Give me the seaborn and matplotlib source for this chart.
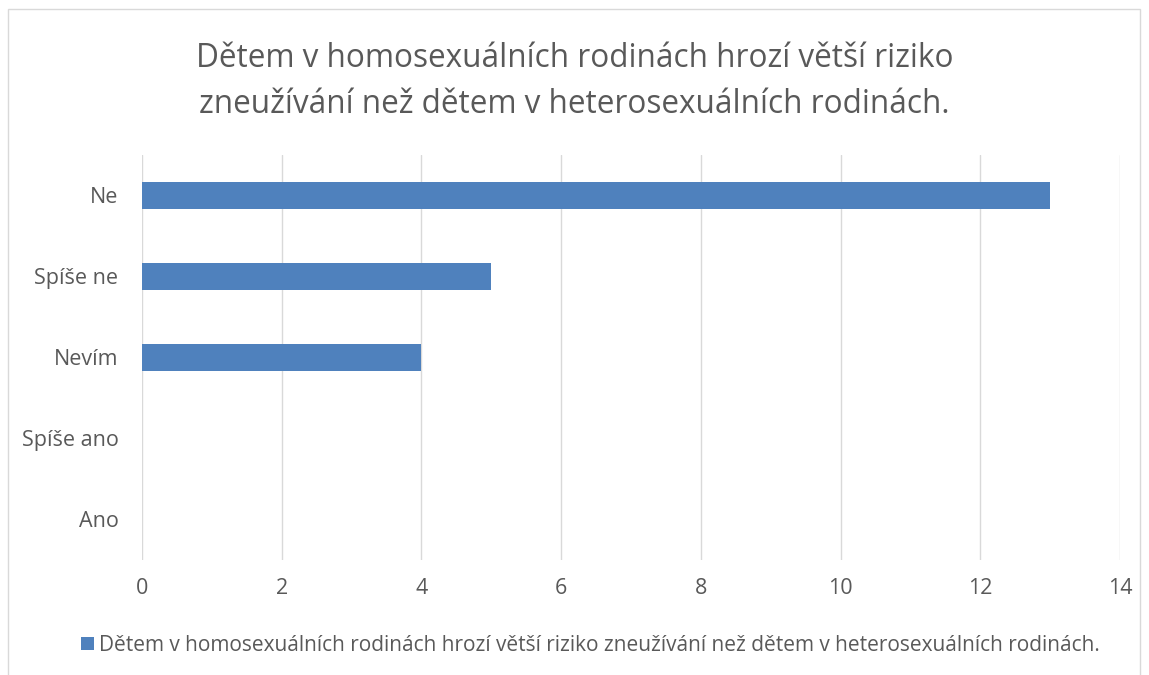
import matplotlib
matplotlib.use("Agg")
import matplotlib.pyplot as plt
import seaborn as sns
import pandas as pd
from matplotlib.patches import Rectangle

categories = ["Ne", "Spíše ne", "Nevím", "Spíše ano", "Ano"]
values = [13, 5, 4, 0, 0]
series_name = "Dětem v homosexuálních rodinách hrozí větší riziko zneužívání než dětem v heterosexuálních rodinách."
title = "Dětem v homosexuálních rodinách hrozí větší riziko\nzneužívání než dětem v heterosexuálních rodinách."
xticks = [0, 2, 4, 6, 8, 10, 12, 14]

sns.set_theme(style="white")
plt.rcParams['font.family'] = ['Open Sans', 'DejaVu Sans']

TEXT = "#595959"
BAR = "#4F81BD"
GRID = "#D9D9D9"

fig = plt.figure(figsize=(11.49, 6.75), dpi=100)
ax = fig.add_axes([0.1236, 0.1704, 0.8512, 0.6])

df = pd.DataFrame({"answer": categories, "count": values})
sns.barplot(data=df, x="count", y="answer", color=BAR, width=0.33,
            saturation=1, ax=ax, orient="h", linewidth=0)

ax.set_xlim(0, 14)
ax.set_ylim(4.5, -0.5)
ax.set_xticks(xticks)
ax.set_xticklabels([str(t) for t in xticks])
ax.set_xlabel("")
ax.set_ylabel("")
for s in ax.spines.values():
    s.set_visible(False)
ax.grid(axis="x", color=GRID, linewidth=1)
ax.grid(axis="y", visible=False)
ax.set_axisbelow(True)
ax.tick_params(axis="x", length=0, pad=13, labelsize=15.5, labelcolor=TEXT)
ax.tick_params(axis="y", length=0, pad=17, labelsize=15.5, labelcolor=TEXT)

fig.text(0.5, 0.879, title, ha="center", va="center", fontsize=22.7,
         color=TEXT, linespacing=1.5)

handle = Rectangle((0, 0), 1, 1, facecolor=BAR, edgecolor="none")
fig.legend([handle], [series_name], loc="center", bbox_to_anchor=(0.514, 0.044),
           frameon=False, fontsize=15, labelcolor=TEXT, handlelength=0.6,
           handleheight=0.6, handletextpad=0.25)

# outer chart border
border = Rectangle((8 / 1149, -0.1), (1140 - 8) / 1149, 1 - 9 / 675 + 0.1,
                   transform=fig.transFigure, fill=False, edgecolor="#D9D9D9",
                   linewidth=1)
fig.patches.append(border)

fig.savefig("out.png", dpi=100)
